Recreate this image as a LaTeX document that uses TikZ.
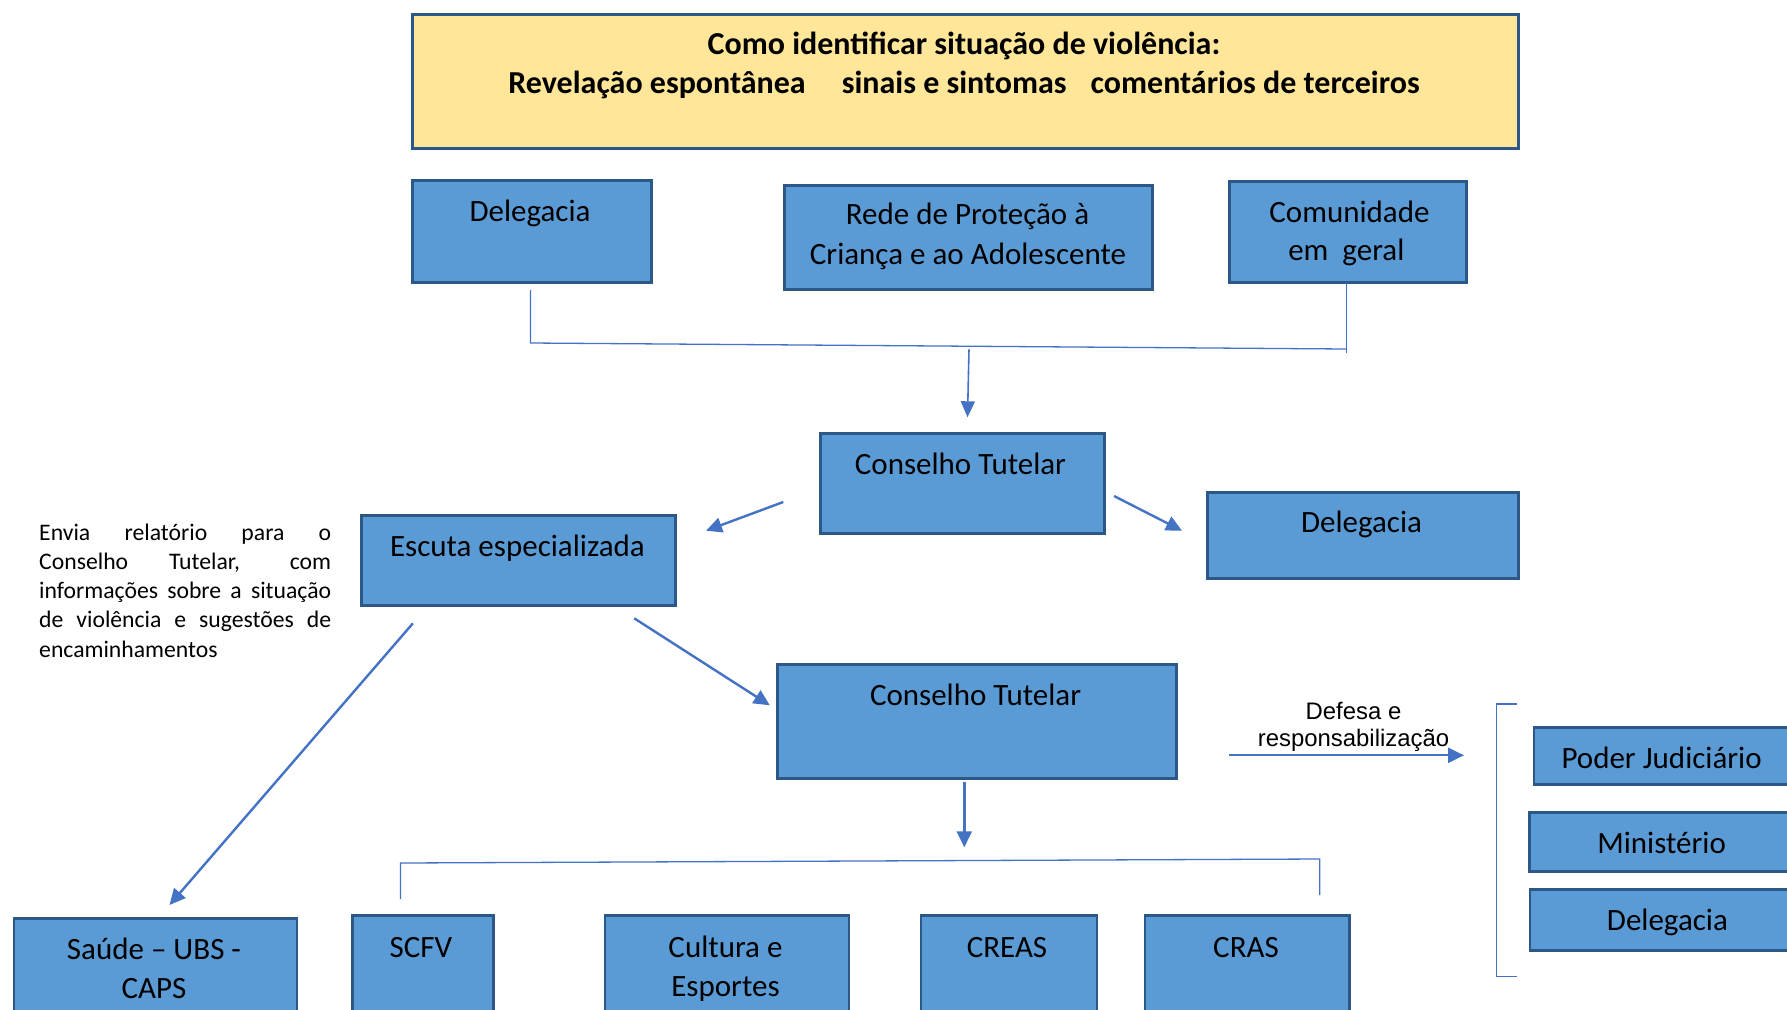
\documentclass[tikz,border=0pt]{standalone}
\usepackage{fontspec}
\setmainfont{Carlito}
\newfontfamily\arialf{Liberation Sans}
\usetikzlibrary{arrows.meta}
\definecolor{boxfill}{HTML}{5B9BD5}
\definecolor{boxline}{HTML}{2C5787}
\definecolor{yelfill}{HTML}{FFE699}
\definecolor{conncol}{HTML}{4472C4}
\begin{document}
\begin{tikzpicture}[x=1pt,y=-1pt,
  bluebox/.style={draw=boxline, fill=boxfill, line width=2.6pt, inner sep=0pt, anchor=north west},
  topbox/.style={draw=boxline, fill=yelfill, line width=2.6pt, inner sep=0pt, anchor=north west},
  lbl/.style={anchor=base, inner sep=0pt, font=\fontsize{31}{37}\selectfont},
  toplbl/.style={anchor=base, inner sep=0pt, font=\bfseries\fontsize{32}{38}\selectfont},
  sidelbl/.style={anchor=base west, inner sep=0pt, font=\fontsize{23.7}{29.3}\selectfont},
  ariallbl/.style={anchor=base, inner sep=0pt, font=\arialf\fontsize{23.9}{28}\selectfont},
  conline/.style={draw=conncol, line width=1.3pt},
  arrline/.style={draw=conncol, line width=2.4pt, -{Triangle[length=16pt,width=15pt]}},
]
\useasboundingbox (0,0) rectangle (1787,1009);
\fill[white] (0,0) rectangle (1787,1009);
\begin{scope}
\clip (0,0) rectangle (1787,1009);

% top box
\node[topbox, minimum width=1106pt, minimum height=134pt] (top) at (411,13) {};
\node[toplbl] (top1) at (964,54.5) {Como identificar situação de violência:};
\node[toplbl] (top2) at (964,93) {Revelação espontânea\hspace{36pt}sinais e sintomas\hspace{24pt}comentários de terceiros};

% second row
\node[bluebox, minimum width=239pt, minimum height=102pt] (del1) at (411,179) {};
\node[lbl] (del1t) at (530,221.7) {Delegacia};
\node[bluebox, minimum width=368pt, minimum height=104pt] (rede) at (783,184) {};
\node[lbl] (rede1) at (967.5,224.3) {Rede de Proteção à};
\node[lbl] (rede2) at (968,264) {Criança e ao Adolescente};
\node[bluebox, minimum width=237pt, minimum height=101pt] (com) at (1228,180) {};
\node[lbl] (com1) at (1349.5,222.3) {Comunidade};
\node[lbl] (com2) at (1346.3,260.5) {em\ \ geral};

% connectors from row 2
\coordinate (c1) at (530.5,290);
\coordinate (c2) at (530.5,343);
\coordinate (c3) at (1346.5,349);
\coordinate (c4) at (1346.5,283);
\coordinate (c5) at (1346.5,353);
\coordinate (c6) at (969,349.3);
\coordinate (c7) at (967.5,417.3);
\draw[conline] (c1) -- (c2) -- (c3);
\draw[conline] (c4) -- (c5);
\draw[conline, line width=1.6pt, -{Triangle[length=16pt,width=14pt]}] (c6) -- (c7);

% Conselho Tutelar 1
\node[bluebox, minimum width=284pt, minimum height=100pt] (ct1) at (819,432) {};
\node[lbl] (ct1t) at (960.5,474) {Conselho Tutelar};

% Delegacia 2
\node[bluebox, minimum width=311pt, minimum height=86pt] (del2) at (1206,491) {};
\node[lbl] (del2t) at (1361.5,532.7) {Delegacia};

% Escuta
\node[bluebox, minimum width=314pt, minimum height=90pt] (esc) at (360,514) {};
\node[lbl] (esct) at (517.4,556) {Escuta especializada};

\coordinate (a1) at (783.3,502);
\coordinate (a2) at (706,530.7);
\coordinate (a3) at (1114,496);
\coordinate (a4) at (1182,530.7);
\draw[arrline] (a1) -- (a2);
\draw[arrline] (a3) -- (a4);

% side text
\node[sidelbl] (s1) at (39,540) {\makebox[292pt][s]{Envia relatório para o}};
\node[sidelbl] (s2) at (39,569.3) {\makebox[292pt][s]{Conselho Tutelar, com}};
\node[sidelbl] (s3) at (39,598.6) {\makebox[292pt][s]{informações sobre a situação}};
\node[sidelbl] (s4) at (39,627.9) {\makebox[292pt][s]{de violência e sugestões de}};
\node[sidelbl] (s5) at (39,657.2) {encaminhamentos};

% Conselho Tutelar 2
\node[bluebox, minimum width=399pt, minimum height=114pt] (ct2) at (776,663) {};
\node[lbl] (ct2t) at (975.6,705) {Conselho Tutelar};

\coordinate (b1) at (412.9,623.3);
\coordinate (b2) at (169.5,905);
\coordinate (b3) at (634.2,618.3);
\coordinate (b4) at (769.8,705.3);
\draw[arrline] (b1) -- (b2);
\draw[arrline] (b3) -- (b4);

\coordinate (d1) at (964.3,781.7);
\coordinate (d2) at (964.3,847.3);
\draw[arrline] (d1) -- (d2);

% bottom bracket
\coordinate (e1) at (400.5,899);
\coordinate (e2) at (400.5,863);
\coordinate (e3) at (1319.8,859);
\coordinate (e4) at (1319.8,895);
\draw[conline] (e1) -- (e2) -- (e3) -- (e4);

% bottom row
\node[bluebox, minimum width=283pt, minimum height=140pt] (sau) at (12.5,917) {};
\node[lbl] (sau1) at (154,959) {Saúde – UBS -};
\node[lbl] (sau2) at (154,998) {CAPS};
\node[bluebox, minimum width=141pt, minimum height=140pt] (scfv) at (351,914) {};
\node[lbl] (scfvt) at (421,957.3) {SCFV};
\node[bluebox, minimum width=244pt, minimum height=140pt] (cult) at (603.5,914) {};
\node[lbl] (cult1) at (725.5,957.3) {Cultura e};
\node[lbl] (cult2) at (725.5,996.3) {Esportes};
\node[bluebox, minimum width=176pt, minimum height=140pt] (creas) at (919.5,914) {};
\node[lbl] (creast) at (1007,957.3) {CREAS};
\node[bluebox, minimum width=204.5pt, minimum height=140pt] (cras) at (1143.5,914) {};
\node[lbl] (crast) at (1246,957.3) {CRAS};

% defesa arrow
\node[ariallbl] (def1) at (1353.5,719) {Defesa e};
\node[ariallbl] (def2) at (1353.5,746.5) {responsabilização};
\coordinate (f1) at (1228.5,755.3);
\coordinate (f2) at (1464,755.3);
\draw[arrline, line width=2.2pt] (f1) -- (f2);

% right bracket
\coordinate (g1) at (1516.7,704);
\coordinate (g2) at (1496.5,704);
\coordinate (g3) at (1496.5,976.3);
\coordinate (g4) at (1516.7,976.3);
\draw[conline] (g1) -- (g2) -- (g3) -- (g4);

% right boxes
\node[bluebox, minimum width=280pt, minimum height=57pt] (pod) at (1532.5,726.3) {};
\node[lbl] (podt) at (1661.6,768.3) {Poder Judiciário};
\node[bluebox, minimum width=285pt, minimum height=59pt] (min) at (1528.3,811) {};
\node[lbl] (mint) at (1661.6,853.3) {Ministério};
\node[bluebox, minimum width=285pt, minimum height=61pt] (del3) at (1528.7,888.3) {};
\node[lbl] (del3t) at (1667.4,930.7) {Delegacia};
\end{scope}
\end{tikzpicture}
\end{document}
